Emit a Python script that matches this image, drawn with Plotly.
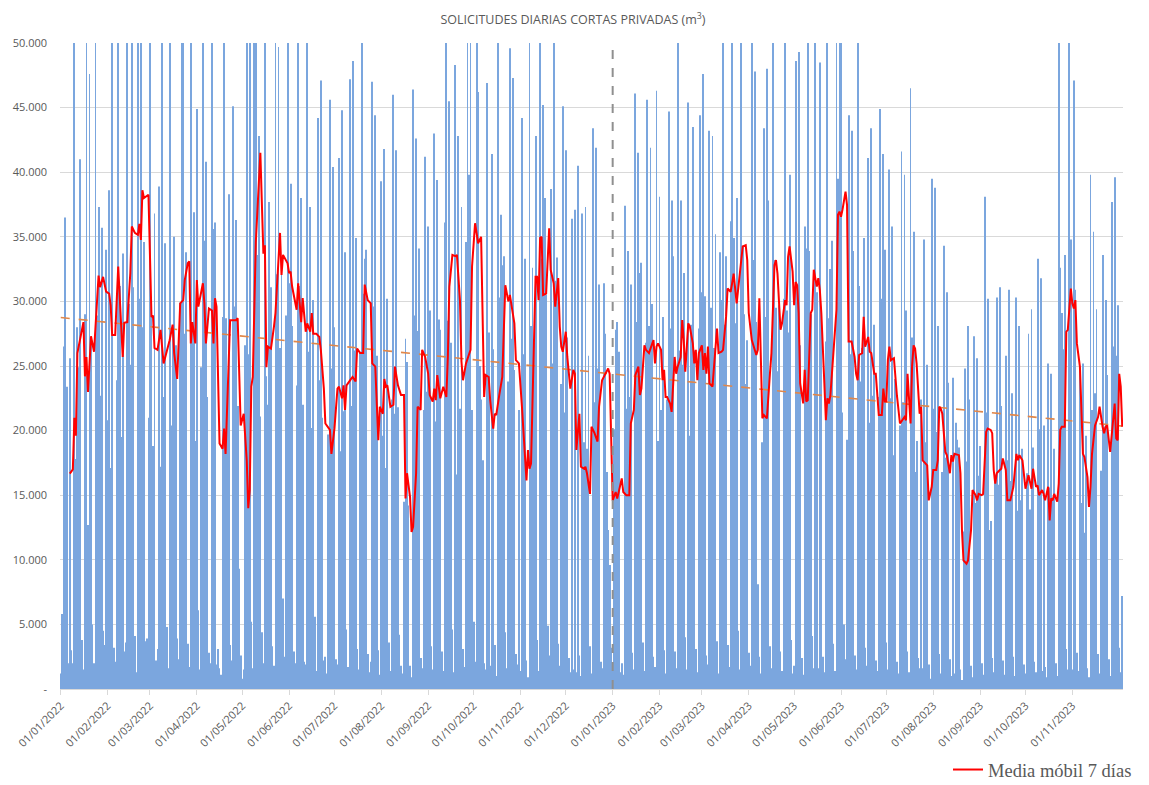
import pandas as pd
import plotly.graph_objects as go

# ---------------- DATA ----------------
start_date = "2022-01-01"
year_change_date = "2023-01-01"

# daily requests (thousand m3); first two values are Sat 01/01/2022 and Sun 02/01/2022,
# then one row per week Mon..Sun, last value Mon 04/12/2023
daily_thousands = [
    1.2, 5.8,
    26.5, 36.5, 23.4, 2.0, 25.6, 3.0, 2.0,
    82.0, 17.8, 28.0, 24.9, 41.0, 3.8, 1.5,
    29.0, 59.5, 12.7, 47.6, 26.9, 5.0, 2.0,
    88.0, 28.9, 37.3, 22.7, 35.7, 4.5, 3.4,
    34.0, 20.8, 38.6, 17.1, 76.0, 3.2, 2.1,
    23.9, 84.0, 31.2, 19.5, 33.7, 2.9, 3.6,
    92.0, 29.8, 25.1, 63.0, 31.1, 4.1, 1.3,
    95.0, 30.2, 72.0, 28.0, 34.6, 3.7, 3.9,
    21.0, 72.4, 29.5, 18.8, 36.8, 2.2, 3.1,
    38.9, 17.2, 65.9, 22.6, 34.5, 4.8, 1.6,
    73.1, 20.4, 27.7, 35.0, 26.6, 3.9, 2.3,
    29.9, 81.3, 54.0, 27.5, 33.8, 3.5, 1.7,
    76.5, 28.4, 36.9, 19.2, 44.9, 6.1, 1.5,
    24.9, 77.3, 34.7, 40.8, 22.6, 2.8, 2.0,
    52.2, 35.6, 36.1, 1.9, 3.1, 1.6, 1.1,
    28.8, 76.9, 28.7, 21.6, 38.3, 3.4, 2.2,
    45.1, 29.6, 36.3, 21.9, 9.3, 2.6, 0.8,
    1.5, 26.6, 55.1, 25.9, 53.1, 5.2, 1.6,
    62.0, 70.0, 33.6, 42.8, 21.1, 4.4, 2.0,
    76.3, 24.2, 22.0, 37.7, 31.1, 3.3, 1.8,
    83.0, 32.1, 49.7, 26.4, 32.4, 7.0, 2.5,
    28.9, 77.6, 31.4, 39.1, 28.1, 2.9, 2.0,
    23.5, 74.9, 31.2, 38.0, 22.0, 2.1, 1.9,
    71.8, 26.1, 37.3, 20.2, 30.1, 5.6, 1.4,
    44.2, 23.9, 47.1, 21.0, 2.2, 2.5, 1.2,
    19.7, 45.6, 24.8, 40.4, 28.0, 2.3, 1.9,
    41.1, 18.4, 44.8, 21.5, 33.8, 4.6, 1.7,
    47.2, 21.9, 48.6, 26.2, 34.9, 3.1, 1.5,
    26.1, 82.0, 30.6, 33.3, 34.0, 2.7, 1.3,
    2.1, 47.0, 29.6, 44.4, 25.8, 3.0, 1.1,
    39.3, 19.6, 41.8, 17.1, 30.2, 3.6, 1.4,
    22.4, 46.0, 21.3, 41.7, 21.8, 4.2, 1.8,
    1.2, 14.5, 27.1, 25.3, 14.2, 1.8, 0.9,
    46.4, 28.9, 42.6, 27.7, 34.1, 2.4, 1.6,
    21.6, 41.2, 23.0, 35.8, 29.3, 3.3, 1.5,
    43.0, 20.7, 39.4, 28.6, 27.8, 2.9, 1.4,
    36.1, 92.0, 28.5, 45.5, 26.8, 4.6, 1.3,
    48.3, 16.6, 42.8, 21.7, 37.3, 3.1, 1.7,
    34.6, 97.0, 39.8, 52.0, 21.6, 5.2, 2.1,
    55.3, 46.2, 25.0, 22.4, 17.7, 2.0, 1.5,
    46.9, 27.6, 1.8, 41.4, 26.3, 3.4, 1.0,
    74.9, 30.3, 36.7, 32.8, 33.5, 4.4, 1.6,
    23.8, 49.6, 27.1, 47.3, 24.7, 2.7, 1.9,
    21.6, 1.4, 44.2, 25.9, 33.3, 2.2, 0.9,
    75.2, 28.1, 32.6, 26.8, 42.8, 3.8, 1.4,
    95.0, 33.3, 45.2, 38.0, 30.5, 4.9, 2.6,
    38.7, 25.2, 62.1, 31.6, 33.4, 3.5, 1.8,
    23.6, 45.1, 21.4, 41.7, 27.2, 2.4, 1.3,
    36.4, 1.5, 37.1, 1.3, 40.5, 2.6, 1.0,
    36.8, 19.1, 37.3, 18.6, 25.8, 3.3, 1.2,
    43.4, 22.2, 41.9, 24.8, 31.3, 2.1, 1.6,
    31.4, 27.5, 16.8, 12.3, 9.6, 3.2, 1.4,
    20.1, 27.8, 28.4, 26.1, 1.3, 2.0, 1.1,
    37.4, 21.7, 33.9, 22.6, 31.3, 2.8, 1.5,
    46.1, 28.4, 41.5, 32.2, 33.0, 3.6, 1.4,
    26.8, 45.6, 28.1, 41.9, 29.8, 2.5, 1.7,
    46.3, 19.2, 38.1, 21.6, 28.8, 3.0, 1.2,
    22.4, 44.7, 27.9, 37.8, 33.5, 2.9, 1.6,
    71.3, 26.2, 37.8, 25.1, 32.2, 4.0, 1.5,
    45.4, 19.6, 28.2, 43.5, 26.2, 3.1, 1.3,
    27.9, 44.4, 30.7, 47.6, 30.4, 2.6, 1.9,
    43.2, 29.5, 42.8, 26.4, 35.2, 3.7, 1.2,
    33.8, 30.1, 85.6, 28.2, 33.5, 3.4, 1.7,
    36.2, 81.7, 34.9, 28.3, 38.0, 4.5, 1.5,
    77.5, 34.3, 29.0, 23.6, 27.0, 2.8, 1.8,
    51.0, 33.2, 47.8, 28.4, 8.1, 2.5, 1.2,
    19.1, 43.4, 28.8, 48.0, 37.8, 3.3, 1.6,
    76.8, 33.2, 29.5, 24.6, 29.7, 2.9, 1.4,
    30.2, 85.1, 29.3, 27.6, 39.8, 3.8, 1.2,
    1.8, 48.6, 31.2, 49.3, 26.6, 2.4, 1.1,
    35.8, 34.1, 88.6, 33.9, 29.0, 4.1, 1.6,
    52.4, 30.7, 1.6, 48.5, 28.5, 2.5, 1.3,
    26.9, 71.8, 28.7, 32.5, 34.7, 3.5, 1.4,
    68.0, 39.5, 62.3, 71.0, 21.4, 5.0, 2.3,
    19.3, 44.4, 25.9, 43.2, 33.9, 2.6, 1.5,
    69.5, 31.2, 23.8, 26.4, 34.9, 3.2, 1.8,
    41.1, 20.6, 43.4, 22.7, 28.2, 2.2, 1.4,
    22.6, 44.9, 30.2, 41.4, 34.0, 3.6, 1.5,
    40.2, 22.5, 35.8, 18.1, 24.0, 2.1, 1.2,
    20.4, 41.6, 22.2, 39.8, 29.3, 2.9, 1.3,
    46.5, 27.2, 35.4, 16.8, 19.2, 2.4, 1.6,
    22.4, 1.6, 34.8, 19.1, 25.1, 1.9, 0.8,
    39.5, 21.7, 38.8, 19.9, 28.1, 2.7, 1.2,
    16.8, 34.3, 17.9, 30.7, 23.7, 2.3, 1.0,
    24.1, 1.2, 20.6, 19.3, 18.7, 1.5, 0.7,
    12.2, 24.8, 17.6, 28.1, 22.4, 1.8, 0.9,
    27.3, 14.4, 25.6, 16.5, 18.8, 2.0, 1.1,
    38.1, 21.4, 30.2, 12.3, 13.0, 2.4, 1.3,
    16.6, 30.3, 15.8, 31.1, 21.9, 2.2, 1.1,
    25.8, 17.7, 30.9, 16.1, 22.9, 2.5, 1.0,
    30.3, 13.8, 28.1, 14.6, 18.6, 1.9, 1.2,
    16.7, 27.5, 13.9, 29.4, 18.7, 2.1, 1.3,
    33.3, 20.1, 31.8, 1.4, 20.4, 1.7, 0.9,
    25.2, 15.6, 24.4, 14.7, 18.6, 2.0, 1.0,
    68.4, 32.6, 29.1, 26.3, 33.6, 3.1, 1.5,
    56.2, 34.8, 1.5, 47.1, 30.9, 2.8, 1.4,
    24.9, 14.4, 25.2, 12.1, 19.6, 1.6, 0.9,
    39.8, 21.6, 35.4, 22.9, 29.4, 2.7, 1.2,
    16.9, 33.6, 20.3, 30.1, 24.3, 2.3, 1.0,
    37.7, 26.5, 39.6, 25.8, 29.7, 3.2, 1.3,
    7.2,
]

# 7-day moving average: day number (0 = 01/01/2022) and value (m3)
ma_day = [
    6, 8, 9, 10, 11, 13, 15, 16, 17, 18, 20, 22, 23, 25, 26, 28, 30, 32, 33, 34,
    36, 38, 40, 41, 42, 44, 46, 47, 49, 51, 52, 53, 54, 55, 58, 60, 61, 62, 64, 66,
    68, 70, 72, 74, 75, 77, 79, 81, 82, 84, 85, 86, 87, 89, 90, 91, 94, 95, 96, 98,
    100, 101, 102, 103, 105, 107, 108, 109, 112, 116, 117, 119, 121, 123, 124, 125, 126, 127, 129, 132,
    134, 135, 136, 137, 139, 141, 142, 145, 146, 147, 150, 151, 152, 153, 155, 156, 157, 159, 160, 162,
    163, 165, 166, 167, 169, 171, 172, 174, 175, 178, 179, 181, 183, 184, 186, 187, 188, 189, 192, 193,
    195, 196, 198, 200, 201, 203, 205, 206, 208, 209, 210, 211, 213, 214, 215, 216, 218, 220, 221, 223,
    225, 227, 228, 229, 231, 232, 233, 235, 236, 238, 239, 241, 243, 244, 246, 247, 248, 249, 251, 253,
    255, 256, 257, 259, 261, 262, 264, 265, 266, 268, 271, 272, 274, 275, 276, 278, 279, 280, 281, 283,
    284, 286, 287, 288, 290, 292, 294, 296, 297, 299, 300, 301, 303, 305, 307, 308, 309, 310, 311, 313,
    314, 315, 316, 317, 318, 319, 321, 323, 324, 326, 327, 329, 330, 331, 332, 334, 335, 337, 339, 340,
    341, 343, 344, 346, 347, 348, 350, 351, 353, 355, 356, 358, 360, 362, 363, 364, 365, 367, 368, 369,
    371, 372, 374, 376, 377, 379, 380, 382, 383, 384, 386, 387, 389, 390, 392, 393, 394, 395, 397, 398,
    399, 400, 401, 403, 404, 406, 407, 408, 410, 411, 412, 413, 415, 416, 418, 419, 420, 421, 422, 424,
    425, 426, 427, 428, 429, 431, 433, 434, 435, 437, 438, 440, 441, 443, 444, 445, 447, 449, 450, 451,
    453, 454, 455, 457, 460, 461, 462, 464, 465, 467, 469, 470, 472, 473, 474, 476, 477, 479, 480, 481,
    482, 484, 485, 486, 487, 488, 489, 491, 492, 493, 494, 496, 497, 498, 500, 501, 502, 503, 505, 506,
    507, 508, 509, 512, 513, 514, 515, 516, 517, 519, 520, 521, 523, 525, 526, 527, 528, 530, 531, 532,
    534, 535, 536, 538, 539, 541, 543, 544, 545, 546, 547, 548, 549, 551, 553, 555, 557, 558, 559, 560,
    562, 563, 564, 565, 566, 568, 569, 570, 572, 573, 574, 576, 577, 579, 580, 581, 582, 583, 585, 586,
    588, 589, 590, 591, 594, 595, 596, 597, 599, 600, 602, 603, 605, 606, 607, 609, 610, 612, 613, 615,
    616, 617, 618, 619, 621, 622, 623, 625, 626, 628, 630, 631, 632, 633, 634, 636, 637, 638, 640, 641,
    642, 643, 645, 646, 647, 649, 650, 651, 653, 654, 655, 656, 657, 659, 660, 661, 662, 664, 665, 666,
    667, 668, 669, 670, 671, 672, 674, 675, 676, 677, 679, 680, 681, 682, 684, 686, 687, 689, 690, 691,
    692, 694, 695, 697, 698, 699, 700, 701, 702,
]
ma_value = [
    16675, 17000, 21000, 19600, 26000, 27300, 28400, 24200, 25700, 23000, 27300, 26100, 28400, 32000, 31100, 31900, 30750, 30600, 29700, 27400,
    27400, 32700, 28000, 25700, 28350, 28400, 32200, 35800, 35300, 35150, 36000, 34750, 38600, 38000, 38250, 28800, 28900, 26400, 26250, 27800,
    25200, 26000, 27000, 28200, 26000, 24000, 29850, 30100, 31650, 32950, 33100, 26750, 28400, 26750, 31650, 29600, 31400, 29850, 26750, 29450,
    29300, 26750, 30250, 29600, 19000, 18600, 20150, 18200, 28550, 28550, 28700, 20400, 21300, 17700, 14000, 15400, 23400, 24150, 34600, 41500,
    33700, 34350, 24900, 26500, 26350, 28050, 29100, 35300, 32050, 33600, 32950, 32200, 32300, 31150, 30000, 29350, 31400, 28400, 30250, 27650,
    28300, 27650, 29100, 27500, 27500, 27250, 26250, 23250, 20550, 20050, 18200, 20150, 23250, 23400, 22500, 23500, 21600, 23500, 24000, 24150,
    23800, 26350, 26000, 26000, 31300, 30100, 29850, 25200, 24950, 22400, 19250, 21850, 21300, 24000, 23400, 23500, 21850, 22000, 24950, 23500,
    22750, 22750, 14750, 16700, 14850, 12150, 12550, 16700, 21850, 21600, 26250, 25700, 24400, 22750, 22250, 23250, 22350, 24300, 22500, 23400,
    22600, 25700, 31150, 33600, 33500, 33600, 30100, 25350, 23900, 25200, 26250, 32700, 36050, 35300, 34500, 35000, 29600, 22600, 24300, 24150,
    22350, 20150, 21300, 21200, 22750, 24150, 31250, 30000, 30500, 28800, 28300, 25450, 25200, 21850, 17600, 16150, 18500, 17050, 17450, 28800,
    31900, 31900, 30100, 34900, 35000, 30500, 30600, 35650, 32450, 31400, 29600, 31800, 28050, 26500, 26100, 27650, 25700, 23250, 24700, 24400,
    18500, 21300, 17200, 17050, 17200, 16700, 15100, 20300, 19800, 19150, 21850, 23900, 24300, 24800, 24400, 20400, 14600, 15250, 14750, 15250,
    16300, 15250, 15000, 15000, 20550, 21600, 24300, 24950, 22750, 23250, 26600, 26250, 26000, 26350, 27000, 25200, 26500, 26750, 26250, 23900,
    24700, 22600, 22600, 22100, 21450, 25700, 24400, 24950, 25700, 28550, 27000, 24550, 28300, 28050, 26750, 25200, 26250, 23900, 26000, 26600,
    24700, 26000, 24400, 26500, 23650, 23400, 26350, 27900, 26000, 26100, 26250, 28800, 31000, 30750, 31400, 32150, 29850, 32150, 32800, 34250,
    34350, 33200, 29100, 27000, 25850, 26250, 30250, 20950, 21200, 20950, 24400, 26000, 32800, 33200, 32150, 27800, 28300, 30100, 29700, 33450,
    34250, 32300, 29700, 31500, 31250, 29100, 23650, 22100, 24700, 22250, 22350, 29100, 29350, 32450, 31150, 31800, 30900, 29100, 23650, 20800,
    22500, 22100, 22750, 28200, 29350, 36700, 36950, 36550, 37100, 38500, 37450, 26900, 26900, 25700, 24400, 23900, 25850, 26000, 28800, 26500,
    27250, 26100, 26000, 24400, 24400, 21200, 21200, 23250, 22250, 22250, 25450, 26500, 25450, 25600, 22700, 20550, 20950, 21050, 20800, 24400,
    20550, 24950, 26600, 26350, 25200, 21300, 21850, 17700, 17450, 17300, 14600, 15650, 16950, 16950, 17700, 21850, 21700, 21300, 18350, 18100,
    16700, 18100, 17600, 18200, 18100, 16700, 12300, 9950, 9700, 9950, 12300, 15400, 15000, 14600, 15100, 15000, 15100, 19900, 20150, 20050,
    19800, 16950, 15900, 16700, 16950, 17050, 17850, 16950, 14600, 14600, 15650, 16700, 18200, 17700, 18100, 17700, 16700, 15500, 16550, 15900,
    15500, 17050, 15650, 15750, 15000, 15400, 15100, 14600, 15650, 13050, 14750, 14600, 15100, 14500, 15900, 20050, 20300, 20300, 27650, 27800,
    29600, 31000, 29850, 29450, 30100, 26750, 24950, 21300, 18200, 17950, 16400, 14100, 15650, 18200, 20400, 21050, 21850, 20300, 19800, 20300,
    20400, 18350, 19650, 22100, 19400, 19250, 24400, 23400, 20300,
]

# linear trend line end values (m3) at first and last day
trend_values = [28750, 20350]

y_tick_values = [0, 5000, 10000, 15000, 20000, 25000, 30000, 35000, 40000, 45000, 50000]
y_tick_labels = ["-", "5.000", "10.000", "15.000", "20.000", "25.000", "30.000",
                 "35.000", "40.000", "45.000", "50.000"]

title_text = "SOLICITUDES DIARIAS CORTAS PRIVADAS (m<sup>3</sup>)"
legend_label = "Media móbil 7 días"

# ---------------- BUILD ----------------
daily = [v * 1000 for v in daily_thousands]
dates = pd.date_range(start_date, periods=len(daily), freq="D")
t0 = pd.Timestamp(start_date)
ma_dates = [t0 + pd.Timedelta(days=d) for d in ma_day]
tick_dates = pd.date_range(start_date, "2023-11-01", freq="MS")

# the page body has an 8px default margin, so the figure is sized to fit the window
W, H = 1141, 777

fig = go.Figure()

fig.add_trace(go.Bar(
    x=dates, y=daily,
    marker=dict(color="#7BA6DE", line=dict(width=0)),
    showlegend=False, hoverinfo="skip",
))

fig.add_trace(go.Scatter(
    x=[dates[0], dates[-1]], y=trend_values, mode="lines",
    line=dict(color="#E0874A", width=1.6, dash="dash"),
    showlegend=False, hoverinfo="skip",
))

fig.add_trace(go.Scatter(
    x=ma_dates, y=ma_value, mode="lines", name=legend_label,
    line=dict(color="#FF0000", width=2),
))

fig.add_shape(
    type="line", xref="x", yref="paper",
    x0=year_change_date, x1=year_change_date, y0=0, y1=1,
    line=dict(color="#8F8F8F", width=2, dash="dash"),
)

fig.update_layout(
    width=W, height=H,
    margin=dict(l=52, r=26, t=35, b=96, autoexpand=False),
    paper_bgcolor="white", plot_bgcolor="white",
    bargap=0.4,
    title=dict(text=title_text, x=565 / W, xref="container", xanchor="center",
               y=1 - 12 / H, yref="container", yanchor="middle",
               font=dict(family="Open Sans", size=12.5, color="#595959")),
    legend=dict(x=940 / W, y=1 - 762 / H, xref="container", yref="container",
                xanchor="left", yanchor="middle",
                orientation="h", font=dict(family="Liberation Serif", size=18.5, color="#595959"),
                bgcolor="rgba(0,0,0,0)"),
    showlegend=True,
)

fig.update_xaxes(
    type="date", automargin=False,
    range=[dates[0] - pd.Timedelta(hours=12), dates[-1] + pd.Timedelta(hours=12)],
    tickvals=list(tick_dates), tickformat="%d/%m/%Y", tickangle=-45,
    tickfont=dict(family="Open Sans", size=11, color="#595959"),
    showgrid=False, showline=True, linecolor="#D9D9D9", linewidth=1,
    ticks="outside", ticklen=5, tickcolor="#D9D9D9",
)

fig.update_yaxes(
    range=[0, 50000], tickvals=y_tick_values, ticktext=y_tick_labels, automargin=False,
    tickfont=dict(family="Open Sans", size=11, color="#595959"),
    showgrid=True, gridcolor="#D9D9D9", gridwidth=1,
    zeroline=False, showline=False, ticks="", ticklabelstandoff=12,
)

fig.write_html("out.html")
